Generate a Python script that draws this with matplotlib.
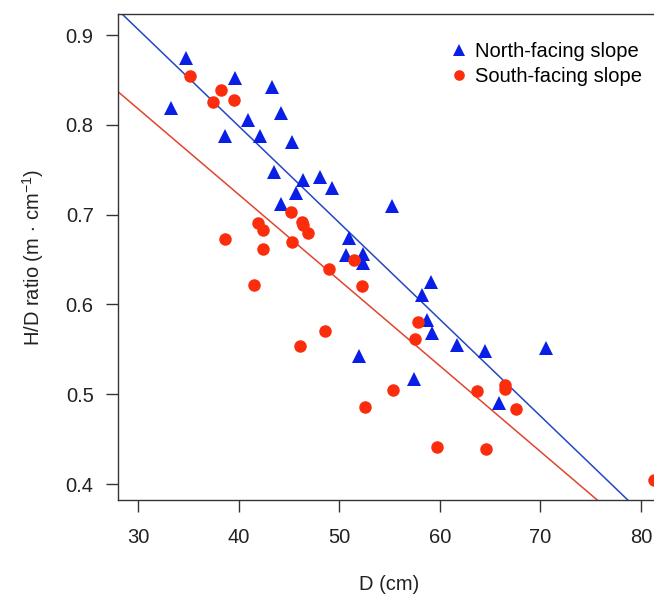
import numpy as np
import matplotlib
matplotlib.use("Agg")
import matplotlib.pyplot as plt

plt.rcParams['font.family'] = ['Liberation Sans', 'DejaVu Sans']
plt.rcParams['mathtext.fontset'] = 'custom'
plt.rcParams['mathtext.rm'] = 'Liberation Sans'
plt.rcParams['mathtext.it'] = 'Liberation Sans:italic'

# north-facing slope (triangles)
north_d = [33.3, 34.8, 39.6, 43.3, 40.9, 44.2, 38.6, 42.1, 45.3, 43.5,
           46.4, 48.1, 49.3, 45.7, 44.2, 55.2, 51.0, 50.7, 52.4, 52.4,
           59.1, 58.2, 58.7, 59.2, 61.7, 64.5, 70.6, 52.0, 57.4, 65.9]
north_hd = [0.819, 0.874, 0.852, 0.842, 0.805, 0.813, 0.787, 0.787, 0.781, 0.747,
            0.739, 0.742, 0.730, 0.724, 0.712, 0.710, 0.674, 0.655, 0.656, 0.646,
            0.625, 0.611, 0.583, 0.568, 0.555, 0.548, 0.552, 0.543, 0.517, 0.490]

# south-facing slope (circles)
south_d = [35.2, 38.2, 39.5, 37.4, 38.6, 41.9, 42.4, 42.4, 45.2, 46.3,
           46.4, 46.9, 45.3, 41.5, 49.0, 51.5, 52.3, 48.6, 46.1, 57.8,
           57.5, 55.3, 52.6, 63.7, 66.5, 66.5, 67.6, 59.7, 64.6, 81.3]
south_hd = [0.854, 0.839, 0.828, 0.825, 0.673, 0.691, 0.683, 0.662, 0.703, 0.692,
            0.688, 0.679, 0.669, 0.622, 0.639, 0.649, 0.620, 0.570, 0.554, 0.580,
            0.561, 0.505, 0.486, 0.504, 0.510, 0.506, 0.483, 0.441, 0.439, 0.405]

# fitted lines: intercept, slope
north_fit = (1.229, -0.01076)
south_fit = (1.104, -0.00954)

blue = '#0a1fe6'
red = '#fb2d0c'
fs = 14.5

fig = plt.figure(figsize=(6.54, 5.97), dpi=100)
# axes run past the right edge, as in the cropped original
ax = fig.add_axes([118 / 654, 97 / 597, 543 / 654, 486 / 597])

xx = np.array([20, 90])
ax.plot(xx, north_fit[0] + north_fit[1] * xx, color='#2447c4', lw=1.1, zorder=2)
ax.plot(xx, south_fit[0] + south_fit[1] * xx, color='#e04530', lw=1.1, zorder=2)

ax.plot(north_d, north_hd, '^', color=blue, ms=9.5, mew=0,
        label='North-facing slope', zorder=3)
ax.plot(south_d, south_hd, 'o', color=red, ms=9, mew=0,
        label='South-facing slope', zorder=3)

ax.set_xlim(28, 82)
ax.set_ylim(0.3822, 0.9234)
ax.set_xticks([30, 40, 50, 60, 70, 80])
ax.set_yticks([0.4, 0.5, 0.6, 0.7, 0.8, 0.9])

for s in ax.spines.values():
    s.set_color('#333333')
    s.set_linewidth(1.0)
ax.tick_params(direction='out', length=8.5, width=1.0, color='#333333',
               labelsize=fs, labelcolor='#222222')
ax.tick_params(axis='x', pad=12)
ax.tick_params(axis='y', pad=9)

ax.set_xlabel('D (cm)', fontsize=fs, color='#222222', labelpad=20)
ax.set_ylabel(r'H/D ratio (m$\,\cdot\,$cm$^{-1}$)', fontsize=fs,
              color='#222222', labelpad=14)

ax.legend(loc='upper left', bbox_to_anchor=(449 / 654, 1 - 42 / 597),
          bbox_transform=fig.transFigure, frameon=False,
          fontsize=fs, handletextpad=0.3, borderaxespad=0.0, borderpad=0.0,
          labelspacing=0.3, handlelength=1.0, markerscale=0.85)

fig.savefig('out.png', dpi=100)
